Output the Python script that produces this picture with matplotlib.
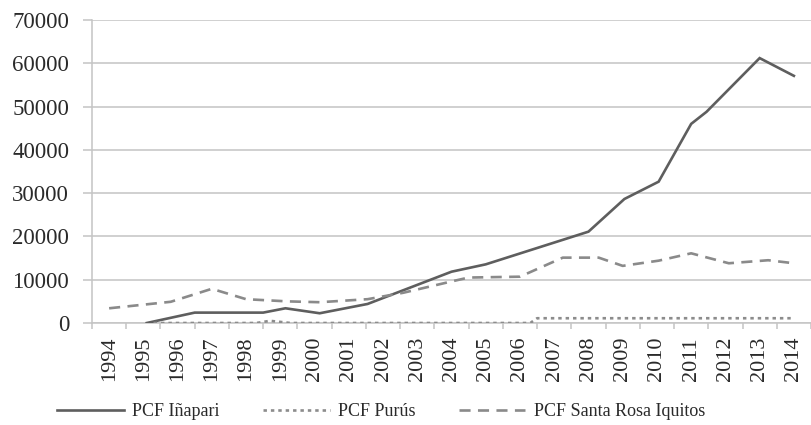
import matplotlib
matplotlib.use("Agg")
import matplotlib.pyplot as plt
import numpy as np

# values (x in years, kinks do not always sit on a year)
years = list(range(1994, 2015))

inapari_x = [1995.1, 1996.5, 1998.5, 1999.15, 2000.15, 2001.55, 2004.0, 2005.0,
             2008.0, 2009.05, 2010.05, 2011.0, 2011.45, 2013.0, 2014.0]
inapari_y = [0, 2400, 2400, 3400, 2250, 4400, 11850, 13550,
             21100, 28650, 32650, 46000, 48800, 61200, 57100]

purus_x = [1995.3, 1998.3, 1998.7, 1999.3, 2006.3, 2006.5, 2014.0]
purus_y = [0, 0, 500, 0, 0, 1100, 1100]

santa_x = [1994.0, 1995.8, 1997.0, 1998.0, 1999.2, 2000.15, 2001.55, 2002.6,
           2004.0, 2004.5, 2006.0, 2007.25, 2008.3, 2009.0, 2010.05, 2011.0,
           2012.1, 2013.25, 2014.0]
santa_y = [3400, 4900, 7900, 5500, 5000, 4800, 5500, 7000,
           9600, 10500, 10700, 15100, 15100, 13200, 14400, 16100,
           13800, 14500, 13800]

yticks = list(range(0, 70001, 10000))

plt.rcParams['font.family'] = ['Liberation Serif', 'DejaVu Serif']
txt = '#2a2a2a'
grid = '#c4c4c4'

fig = plt.figure(figsize=(8.11, 4.25), dpi=100)
ax = fig.add_axes([92/811, 1 - 323/425, 1 - 92/811, 303/425])

ax.plot(inapari_x, inapari_y, color='#5e5e5e', lw=1.9, solid_joinstyle='miter',
        label='PCF Iñapari', zorder=3)
ax.plot(purus_x, purus_y, color='#8c8c8c', lw=1.9, dashes=(1.3, 1.5),
        label='PCF Purús', zorder=3)
ax.plot(santa_x, santa_y, color='#8a8a8a', lw=1.9, dashes=(4.2, 2.8),
        label='PCF Santa Rosa Iquitos', zorder=3)

ax.set_xlim(1993.5, 2014.35)
ax.set_ylim(0, 70000)

ax.set_yticks(yticks)
ax.set_yticklabels([str(v) for v in yticks], fontsize=16.5, color=txt)
ax.set_xticks(years)
ax.set_xticklabels([str(y) for y in years], rotation=90, fontsize=16, color=txt)
ax.set_xticks(np.arange(1993.5, 2014.6, 1.0), minor=True)

ax.tick_params(axis='x', which='major', length=0, pad=10)
ax.tick_params(axis='x', which='minor', length=4, width=1.1, color=grid, direction='out')
ax.tick_params(axis='y', length=6.5, width=1.1, color=grid, pad=10)

ax.yaxis.grid(True, color=grid, lw=1.1, zorder=0)
ax.set_axisbelow(True)
for s in ['top', 'right']:
    ax.spines[s].set_visible(False)
for s in ['left', 'bottom']:
    ax.spines[s].set_color(grid)
    ax.spines[s].set_linewidth(1.1)

leg = fig.legend(loc='center', bbox_to_anchor=(381/811, 1 - 412/425), ncol=3,
                 frameon=False, fontsize=13, handlelength=3.7, handletextpad=0.45,
                 columnspacing=2.4)
for t in leg.get_texts():
    t.set_color(txt)

plt.savefig('out.png', dpi=100)
